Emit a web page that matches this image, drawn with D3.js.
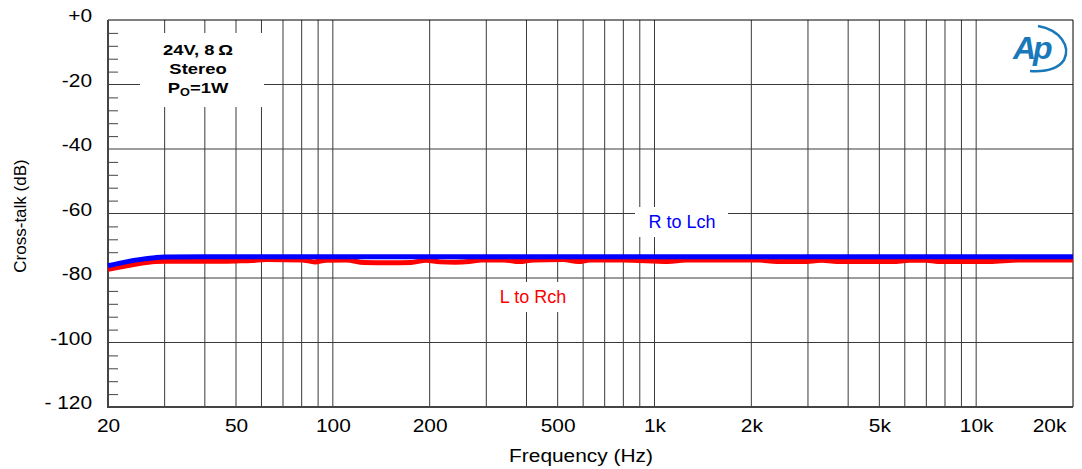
<!DOCTYPE html>
<html>
<head>
<meta charset="utf-8">
<script src="https://cdn.jsdelivr.net/npm/d3@7"></script>
<style>
  body { margin: 0; background: #fff; }
  svg { display: block; font-family: "Liberation Sans", Arial, sans-serif; }
</style>
</head>
<body>
<svg id="chart" width="1082" height="469"></svg>
<script>
// x tick labels
var xTicks = [20, 50, 100, 200, 500, 1000, 2000, 5000, 10000, 20000];
var xTickLabels = ["20", "50", "100", "200", "500", "1k", "2k", "5k", "10k", "20k"];
var yTicks = [0, -20, -40, -60, -80, -100, -120];
var yTickLabels = ["+0", "-20", "-40", "-60", "-80", "-100", "- 120"];

// R to Lch (blue)
var rlFreq = [20, 22, 25, 28, 30, 40, 100, 1000, 10000, 20000];
var rlDb   = [-76.2, -75.3, -74.3, -73.7, -73.5, -73.4, -73.4, -73.4, -73.4, -73.4];

// L to Rch (red)
var lrFreq = [20, 22, 25, 28, 30, 40, 50, 56, 62, 80, 88, 95, 110, 125, 150, 175, 195, 215, 240, 265, 290,
              340, 380, 420, 520, 580, 630, 800, 1100, 1250, 2100, 2400, 2900, 3300, 3800, 5500, 6200, 7000,
              7600, 11000, 13500, 20000];
var lrDb   = [-77.3, -76.5, -75.5, -74.9, -74.8, -74.8, -74.7, -74.6, -74.3, -74.4, -75.0, -74.5, -74.4, -75.2,
              -75.3, -75.2, -74.5, -75.0, -75.1, -74.9, -74.4, -74.4, -74.9, -74.4, -74.3, -74.9, -74.4, -74.4,
              -74.9, -74.4, -74.4, -74.9, -74.9, -74.5, -74.9, -74.9, -74.5, -74.5, -74.9, -74.9, -74.4, -74.4];

(function(){
  var svg = d3.select("#chart");
  var pLeft = 108, pRight = 1073, pTop = 20, pBottom = 407;

  var x = d3.scaleLog().domain([20, 20000]).range([pLeft, pRight]);
  var y = d3.scaleLinear().domain([-120, 0]).range([pBottom, pTop]);

  // grid lines
  var vGrid = [];
  [10, 100, 1000].forEach(function(dec){
    for (var k = (dec === 10 ? 3 : 1); k <= 9; k++) { vGrid.push(k * dec); }
  });
  vGrid.push(10000);
  var hGrid = [-20, -40, -60, -80, -100];

  var grid = svg.append("g").attr("class", "grid");
  grid.selectAll("line.v").data(vGrid).enter().append("line")
    .attr("x1", function(d){ return x(d); }).attr("x2", function(d){ return x(d); })
    .attr("y1", pTop).attr("y2", pBottom)
    .attr("stroke", "#3a3a3a").attr("stroke-width", 1);
  grid.selectAll("line.h").data(hGrid).enter().append("line")
    .attr("x1", pLeft).attr("x2", pRight)
    .attr("y1", function(d){ return y(d); }).attr("y2", function(d){ return y(d); })
    .attr("stroke", "#3a3a3a").attr("stroke-width", 1);

  // white boxes behind the notes
  svg.append("rect").attr("x", 140).attr("y", 33).attr("width", 124).attr("height", 74).attr("fill", "#fff");
  svg.append("rect").attr("x", 635).attr("y", 207).attr("width", 93).attr("height", 30).attr("fill", "#fff");
  svg.append("rect").attr("x", 487).attr("y", 282).attr("width", 90).attr("height", 30).attr("fill", "#fff");

  // frame
  svg.append("line").attr("x1", pLeft).attr("x2", pRight).attr("y1", pTop).attr("y2", pTop).attr("stroke", "#000");
  svg.append("line").attr("x1", pRight).attr("x2", pRight).attr("y1", pTop).attr("y2", pBottom).attr("stroke", "#000");
  svg.append("line").attr("x1", pLeft).attr("x2", pLeft).attr("y1", pTop).attr("y2", pBottom + 1)
    .attr("stroke", "#444").attr("stroke-width", 2);
  svg.append("line").attr("x1", pLeft - 1).attr("x2", pRight).attr("y1", pBottom).attr("y2", pBottom)
    .attr("stroke", "#444").attr("stroke-width", 2);

  // minor ticks on the left axis
  var minor = d3.range(-4, -120, -4).filter(function(d){ return d % 20 !== 0; });
  svg.append("g").attr("transform", "translate(" + pLeft + ",0)")
    .call(d3.axisRight(y).tickValues(minor).tickSize(10).tickFormat(""))
    .call(function(g){ g.select(".domain").remove(); })
    .selectAll("line").attr("stroke", "#444");

  var stretch = 1.13;

  // x axis
  var xAxis = svg.append("g").attr("transform", "translate(0," + pBottom + ")")
    .call(d3.axisBottom(x).tickValues(xTicks).tickSize(0)
      .tickFormat(function(d, i){ return xTickLabels[i]; }));
  xAxis.select(".domain").remove();
  xAxis.selectAll("text")
    .attr("y", 25).attr("dy", 0)
    .attr("font-size", 18.5).attr("font-family", "Liberation Sans, Arial, sans-serif")
    .attr("fill", "#000")
    .attr("transform", function(d){ return d === 20000 ? "translate(-24,0) scale(" + stretch + ",1)" : "scale(" + stretch + ",1)"; });

  // y axis
  var yAxis = svg.append("g").attr("transform", "translate(" + pLeft + ",0)")
    .call(d3.axisLeft(y).tickValues(yTicks).tickSize(0)
      .tickFormat(function(d, i){ return yTickLabels[i]; }));
  yAxis.select(".domain").remove();
  yAxis.selectAll("text")
    .attr("x", -16 / stretch).attr("dy", 1.5)
    .attr("font-size", 18.5).attr("font-family", "Liberation Sans, Arial, sans-serif")
    .attr("fill", "#000")
    .attr("transform", "scale(" + stretch + ",1)");

  // axis titles
  svg.append("text").attr("transform", "translate(581,462) scale(1.13,1)")
    .attr("text-anchor", "middle").attr("font-size", 18.5).text("Frequency (Hz)");
  svg.append("text").attr("transform", "translate(20,216) rotate(-90)")
    .attr("text-anchor", "middle").attr("dominant-baseline", "central")
    .attr("font-size", 17).text("Cross-talk (dB)");

  // curves
  var line = d3.line()
    .x(function(d){ return x(d[0]); })
    .y(function(d){ return y(d[1]); })
    .curve(d3.curveMonotoneX);

  svg.append("path").datum(d3.zip(lrFreq, lrDb))
    .attr("d", line).attr("fill", "none").attr("stroke", "#ff0000").attr("stroke-width", 5);
  svg.append("path").datum(d3.zip(rlFreq, rlDb))
    .attr("d", line).attr("fill", "none").attr("stroke", "#0000ff").attr("stroke-width", 5);

  // curve labels
  svg.append("text").attr("x", 682).attr("y", 228).attr("text-anchor", "middle")
    .attr("font-size", 18).attr("fill", "#0000ff").text("R to Lch");
  svg.append("text").attr("x", 533).attr("y", 303).attr("text-anchor", "middle")
    .attr("font-size", 18).attr("fill", "#ff0000").text("L to Rch");

  // condition note
  var note = svg.append("g").attr("font-weight", "bold").attr("font-size", 14.5).attr("text-anchor", "middle");
  note.append("text").attr("transform", "translate(198,55) scale(1.27,1)").text("24V, 8\u2009\u03A9");
  note.append("text").attr("transform", "translate(198,74) scale(1.27,1)").text("Stereo");
  var po = note.append("text").attr("transform", "translate(198,93) scale(1.27,1)");
  po.append("tspan").text("P");
  po.append("tspan").attr("font-size", 10).attr("dy", 3).text("O");
  po.append("tspan").attr("dy", -3).text("=1W");

  // AP logo
  var logo = svg.append("g").attr("fill", "#1878b9").attr("stroke", "#1878b9");
  logo.append("text").attr("x", 1013).attr("y", 59).attr("stroke", "none")
    .attr("font-size", 32).attr("font-style", "italic").attr("font-weight", "bold")
    .attr("letter-spacing", -3).text("Ap");
  logo.append("path").attr("fill", "none").attr("stroke-width", 2.5)
    .attr("d", "M1038,26 C1060,30 1071,46 1064,60 C1058,69 1046,72 1030,71");
})();
</script>
</body>
</html>
